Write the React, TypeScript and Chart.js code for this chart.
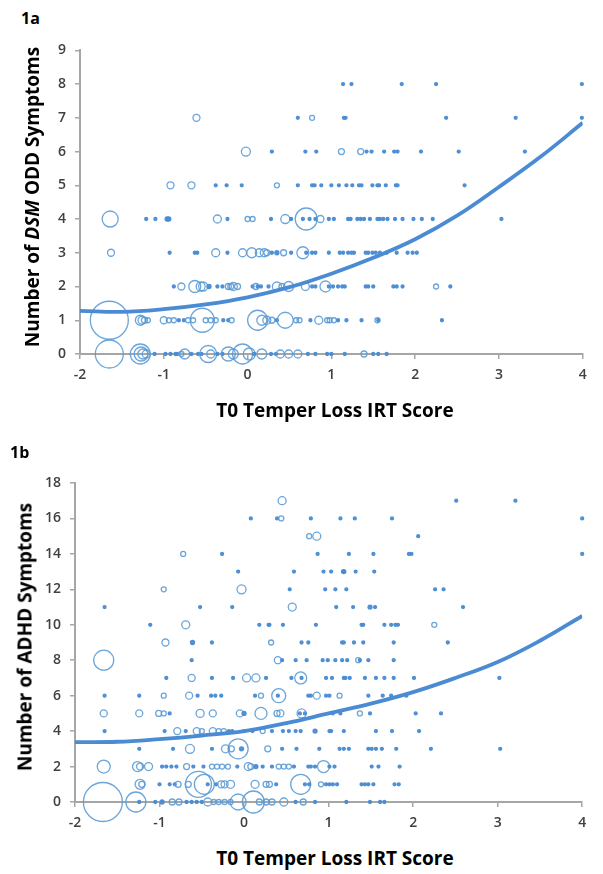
import React, { useEffect, useRef } from 'react';
import { Chart, registerables } from 'chart.js';

Chart.register(...registerables);

// ---------- shared axis values ----------
const X_MIN = -2;
const X_MAX = 4;
const FIT_X = [-2, -1.5, -1, -0.5, 0, 0.5, 1, 1.5, 2, 2.5, 3, 3.5, 4];

// ---------- 1a: ODD symptoms (fitted curve) ----------
const ODD_FIT = [1.28, 1.25, 1.33, 1.47, 1.68, 1.98, 2.38, 2.85, 3.4, 4.1, 4.95, 5.85, 6.85];

// each row = symptom count; entries are [T0 score, bubble radius]
const ODD_0 = [[-1.65,14],[-1.28,10],[-1.27,7],[-1.25,5],[-1.21,4],[-1.11,1.5],[-0.98,1.5],[-0.92,1.5],[-0.86,1.5],[-0.84,1.5],[-0.79,2.5],[-0.75,5],[-0.67,1.5],[-0.59,1.5],[-0.55,1.5],[-0.47,8.5],[-0.44,4],[-0.36,1.5],[-0.3,1.5],[-0.23,7],[-0.17,5],[-0.06,10],[0.02,6],[0.08,1.5],[0.17,5],[0.28,1.5],[0.34,1.5],[0.39,4],[0.49,4],[0.6,4],[0.72,1.5],[0.81,1.5],[0.95,1.5],[1.0,1.5],[1.16,1.5],[1.39,3],[1.5,1.5],[1.56,1.5],[1.66,1.5]];
const ODD_1 = [[-1.65,19],[-1.28,5],[-1.26,4],[-1.23,3],[-1.19,2.5],[-1.0,3.5],[-0.94,2.5],[-0.88,2.5],[-0.82,1.5],[-0.76,1.5],[-0.71,2.5],[-0.65,2.5],[-0.54,12],[-0.5,2.5],[-0.44,2.5],[-0.38,2.5],[-0.29,1.5],[-0.23,1.5],[-0.19,2.5],[0.12,10],[0.17,5],[0.23,4],[0.29,3],[0.35,1.5],[0.45,8],[0.58,2.5],[0.62,2.5],[0.75,1.5],[0.85,4],[0.95,2.5],[0.98,2.5],[1.03,2.5],[1.08,1.5],[1.18,1.5],[1.36,1.5],[1.55,2.5],[1.56,1.5],[2.32,1.5]];
const ODD_2 = [[-0.88,1.5],[-0.79,3.5],[-0.63,6],[-0.56,4.5],[-0.53,4.5],[-0.46,2],[-0.36,1.5],[-0.3,1.5],[-0.23,3],[-0.2,3],[-0.17,4],[-0.12,3],[0.06,1.5],[0.1,3],[0.12,1.5],[0.16,1.5],[0.25,1.5],[0.35,4.5],[0.41,3],[0.49,5],[0.69,4],[0.77,1.5],[0.81,1.5],[0.93,5.5],[0.97,1.5],[1.02,1.5],[1.08,1.5],[1.13,1.5],[1.16,1.5],[1.41,1.5],[1.44,1.5],[1.5,1.5],[1.74,1.5],[1.78,1.5],[1.85,1.5],[2.25,2.5],[2.42,1.5]];
const ODD_3 = [[-1.63,3.5],[-0.93,1.5],[-0.63,1.5],[-0.6,1.5],[-0.38,4],[-0.24,1.5],[-0.06,4],[0.05,5],[0.14,4],[0.2,4],[0.23,3],[0.29,1.5],[0.35,2],[0.43,3],[0.52,1.5],[0.66,6],[0.7,1.5],[0.77,1.5],[0.81,1.5],[0.97,1.5],[1.1,1.5],[1.14,1.5],[1.2,1.5],[1.24,1.5],[1.27,1.5],[1.41,1.5],[1.44,1.5],[1.49,1.5],[1.53,1.5],[1.58,1.5],[1.66,1.5],[1.78,1.5],[1.91,1.5],[1.97,1.5],[2.02,1.5]];
const ODD_4 = [[-1.64,8],[-1.21,1.5],[-1.1,1.5],[-0.96,2],[-0.94,2],[-0.36,4],[-0.24,1.5],[0.0,2.5],[0.06,2.5],[0.28,1.5],[0.45,4.5],[0.52,1.5],[0.66,1.5],[0.7,11],[0.74,1.5],[0.81,1.5],[0.87,3.5],[0.97,1.5],[1.03,1.5],[1.2,1.5],[1.23,1.5],[1.31,1.5],[1.35,1.5],[1.39,1.5],[1.46,1.5],[1.55,1.5],[1.58,1.5],[1.62,1.5],[1.67,1.5],[1.76,1.5],[1.85,1.5],[1.98,1.5],[2.08,1.5],[2.21,1.5],[3.03,1.5]];
const ODD_5 = [[-0.92,3.5],[-0.67,3.5],[-0.38,1.5],[-0.25,1.5],[-0.07,1.5],[0.35,2.5],[0.6,1.5],[0.77,1.5],[0.8,1.5],[0.88,1.5],[1.0,1.5],[1.09,1.5],[1.18,1.5],[1.25,1.5],[1.33,1.5],[1.36,1.5],[1.49,1.5],[1.55,1.5],[1.57,1.5],[1.65,1.5],[1.77,1.5],[1.79,1.5],[2.59,1.5]];
const ODD_6 = [[-0.02,4.5],[0.29,1.5],[0.69,1.5],[0.82,1.5],[1.12,3],[1.35,3],[1.42,1.5],[1.48,1.5],[1.63,1.5],[1.75,1.5],[1.79,1.5],[2.07,1.5],[2.52,1.5],[3.31,1.5]];
const ODD_7 = [[-0.61,3.5],[0.6,1.5],[0.77,2.5],[1.15,1.5],[1.17,1.5],[2.37,1.5],[3.2,1.5],[3.99,1.5]];
const ODD_8 = [[1.14,1.5],[1.24,1.5],[1.84,1.5],[2.25,1.5],[3.99,1.5]];
const ODD_ROWS = [ODD_0, ODD_1, ODD_2, ODD_3, ODD_4, ODD_5, ODD_6, ODD_7, ODD_8];

// ---------- 1b: ADHD symptoms ----------
const ADHD_FIT = [3.38, 3.4, 3.55, 3.75, 4.0, 4.45, 5.0, 5.55, 6.2, 7.0, 7.9, 9.1, 10.5];

const AD_0 = [[-1.67,19.5],[-1.28,10],[-1.24,1.5],[-1.05,1.5],[-0.97,2],[-0.85,3],[-0.77,3],[-0.68,1.5],[-0.62,1.5],[-0.56,1.5],[-0.5,1.5],[-0.43,4],[-0.36,2.5],[-0.3,2.5],[-0.23,2.5],[-0.16,2.5],[-0.07,8],[0.11,11],[0.18,3],[0.26,3],[0.33,3],[0.47,4],[0.61,1.5],[0.7,3],[0.84,1.5],[1.21,1.5],[1.49,1.5],[1.61,1.5],[1.66,1.5]];
const AD_1 = [[-1.23,5],[-1.21,3],[-1.0,1.5],[-0.88,1.5],[-0.82,1.5],[-0.78,3],[-0.66,3],[-0.54,13],[-0.47,10],[-0.43,1.5],[-0.33,1.5],[-0.27,3.5],[-0.23,3.5],[-0.16,4],[0.13,4],[0.26,3],[0.3,3],[0.38,1.5],[0.67,10],[0.72,1.5],[0.77,1.5],[0.91,2.5],[0.97,1.5],[1.01,1.5],[1.05,1.5],[1.1,1.5],[1.39,1.5],[1.43,1.5],[1.47,1.5],[1.53,1.5],[1.78,1.5],[1.83,1.5]];
const AD_2 = [[-1.66,6.5],[-1.26,5],[-1.23,3.5],[-1.13,4],[-0.97,1.5],[-0.92,1.5],[-0.86,1.5],[-0.8,1.5],[-0.68,3],[-0.6,1.5],[-0.48,1.5],[-0.38,2.5],[-0.32,2.5],[-0.26,2.5],[-0.19,2.5],[-0.08,1.5],[0.05,4],[0.08,3],[0.14,2],[0.22,1.5],[0.33,1.5],[0.41,2.5],[0.47,2.5],[0.53,2.5],[0.59,1.5],[0.76,1.5],[0.79,1.5],[0.84,1.5],[0.94,6],[1.01,1.5],[1.07,1.5],[1.51,1.5],[1.59,1.5],[1.84,1.5]];
const AD_3 = [[-1.24,1.5],[-0.84,1.5],[-0.64,4.5],[-0.38,1.5],[-0.22,4],[-0.15,3],[-0.07,10],[-0.03,2],[0.28,3],[0.45,1.5],[0.62,1.5],[0.89,1.5],[1.13,1.5],[1.18,1.5],[1.24,1.5],[1.47,1.5],[1.51,1.5],[1.56,1.5],[1.63,1.5],[1.8,1.5],[2.21,1.5],[3.03,1.5]];
const AD_4 = [[-1.65,1.5],[-0.94,1.5],[-0.79,3.5],[-0.69,1.5],[-0.56,3.5],[-0.5,2.5],[-0.37,3.5],[-0.3,2.5],[-0.24,2.5],[-0.18,1.5],[-0.14,1.5],[0.0,1.5],[0.1,1.5],[0.22,2.5],[0.33,1.5],[0.46,1.5],[0.53,1.5],[0.61,1.5],[0.67,1.5],[0.84,2],[1.01,1.5],[1.03,1.5],[1.18,1.5],[1.56,1.5],[1.75,1.5],[2.07,1.5]];
const AD_5 = [[-1.66,3.5],[-1.24,3.5],[-1.01,3],[-0.95,2.5],[-0.88,1.5],[-0.52,4],[-0.37,3.5],[-0.05,3.5],[0.0,2],[0.2,6],[0.39,3],[0.43,3.5],[0.66,1.5],[0.68,4.5],[0.72,1.5],[1.05,1.5],[1.14,1.5],[1.37,2.5],[1.49,1.5],[2.03,1.5],[2.33,1.5]];
const AD_6 = [[-1.65,1.5],[-1.24,1.5],[-0.95,2.5],[-0.65,3.5],[-0.55,1.5],[-0.39,1.5],[-0.34,1.5],[-0.27,1.5],[0.13,1.5],[0.2,2.5],[0.41,7],[0.4,1.5],[0.76,1.5],[0.79,1.5],[0.86,3.5],[0.97,1.5],[1.01,1.5],[1.13,2.5],[1.47,1.5],[1.64,1.5],[1.74,1.5],[1.92,1.5]];
const AD_7 = [[-0.92,1.5],[-0.62,3.5],[-0.38,1.5],[-0.13,1.5],[0.03,4],[0.14,4],[0.26,1.5],[0.56,1.5],[0.67,6],[0.68,1.5],[0.97,1.5],[1.04,1.5],[1.18,1.5],[1.2,1.5],[1.25,1.5],[1.43,1.5],[1.56,1.5],[1.66,1.5],[1.77,1.5],[2.01,1.5],[3.02,1.5]];
const AD_8 = [[-1.66,10],[-0.62,1.5],[0.4,3.5],[0.45,1.5],[0.61,1.5],[0.74,1.5],[0.93,1.5],[0.99,1.5],[1.08,1.5],[1.16,1.5],[1.22,1.5],[1.35,2.5],[1.37,1.5],[1.47,1.5],[1.77,1.5]];
const AD_9 = [[-0.93,3.5],[-0.61,2],[-0.38,1.5],[0.32,2.5],[0.68,1.5],[0.76,1.5],[1.16,1.5],[1.18,1.5],[1.3,1.5],[1.41,1.5],[1.77,1.5],[2.41,1.5]];
const AD_10 = [[-1.11,1.5],[-0.69,4],[0.18,1.5],[0.29,1.5],[0.3,1.5],[0.46,1.5],[0.85,1.5],[1.39,1.5],[1.41,1.5],[1.66,1.5],[1.74,1.5],[1.79,1.5],[1.82,1.5],[2.25,2.5]];
const AD_11 = [[-1.65,1.5],[-0.52,1.5],[-0.14,1.5],[0.57,4],[1.09,1.5],[1.29,1.5],[1.49,2],[1.55,1.5],[2.59,1.5]];
const AD_12 = [[-0.95,2.5],[-0.03,4.5],[0.54,1.5],[0.96,1.5],[1.08,1.5],[1.21,1.5],[2.26,1.5],[2.36,1.5]];
const AD_13 = [[-0.07,1.5],[0.59,1.5],[0.94,1.5],[1.03,1.5],[1.17,1.5],[1.18,2],[1.32,1.5],[1.54,1.5]];
const AD_14 = [[-0.72,2.5],[-0.26,1.5],[0.87,1.5],[1.24,1.5],[1.53,1.5],[1.95,1.5],[1.98,1.5],[4.0,1.5]];
const AD_15 = [[0.77,2.5],[0.86,4],[2.06,1.5]];
const AD_16 = [[0.08,1.5],[0.39,1.5],[0.44,2.5],[0.79,1.5],[1.14,1.5],[1.31,1.5],[1.75,1.5],[4.0,1.5]];
const AD_17 = [[0.45,4],[2.51,1.5],[3.21,1.5]];
const AD_ROWS = [AD_0, AD_1, AD_2, AD_3, AD_4, AD_5, AD_6, AD_7, AD_8, AD_9, AD_10, AD_11, AD_12, AD_13, AD_14, AD_15, AD_16, AD_17];

// ---------- styles ----------
const FONT = '"Open Sans", "DejaVu Sans", sans-serif';
const DOT_COLOR = 'rgba(91,155,213,0.9)';
const DOT_FILL = 'rgba(74,140,210,0.95)';
const LINE_COLOR = '#4a8bd4';
const AXIS_COLOR = '#a6a6a6';
const TICK_COLOR = '#404040';

function toBubbles(rows: number[][][]) {
  const pts: { x: number; y: number; r: number }[] = [];
  rows.forEach((row, y) => row.forEach(([x, r]) => pts.push({ x, y, r })));
  return pts;
}

interface PanelProps {
  rows: number[][][];
  fit: number[];
  yMax: number;
  yStep: number;
  top: number;
  height: number;
  leftW: number;
  padTop: number;
  padRight: number;
  xAxisH: number;
}

function Panel(p: PanelProps) {
  const ref = useRef<HTMLCanvasElement>(null);
  useEffect(() => {
    if (!ref.current) return;
    const tickFont = { family: FONT, size: 14, weight: 600 as any };
    const chart = new Chart(ref.current, {
      type: 'bubble',
      data: {
        datasets: [
          {
            type: 'line' as any,
            data: FIT_X.map((x, i) => ({ x, y: p.fit[i] })),
            borderColor: LINE_COLOR,
            borderWidth: 3.8,
            pointRadius: 0,
            tension: 0.4,
            fill: false,
            order: 0,
          } as any,
          {
            data: toBubbles(p.rows),
            borderColor: (c: any) => (c.raw && c.raw.r <= 2 ? DOT_FILL : DOT_COLOR),
            backgroundColor: (c: any) => (c.raw && c.raw.r <= 2 ? DOT_FILL : 'rgba(0,0,0,0)'),
            borderWidth: 1.3,
            clip: false,
            order: 1,
          } as any,
        ],
      },
      options: {
        responsive: false,
        animation: false,
        events: [],
        layout: { padding: { left: 0, right: p.padRight, top: p.padTop, bottom: 0 } },
        plugins: { legend: { display: false }, tooltip: { enabled: false } },
        scales: {
          x: {
            type: 'linear',
            min: X_MIN,
            max: X_MAX,
            afterFit: (s: any) => { s.height = p.xAxisH; },
            ticks: { stepSize: 1, padding: 8, color: TICK_COLOR, font: tickFont },
            grid: { drawOnChartArea: false, drawTicks: true, tickLength: 5, color: AXIS_COLOR, lineWidth: 1.5 },
            border: { display: true, color: AXIS_COLOR, width: 2 },
          },
          y: {
            type: 'linear',
            min: 0,
            max: p.yMax,
            afterFit: (s: any) => { s.width = p.leftW; },
            ticks: { stepSize: p.yStep, padding: 9, color: TICK_COLOR, font: tickFont },
            grid: { drawOnChartArea: false, drawTicks: true, tickLength: 5, color: AXIS_COLOR, lineWidth: 1.5 },
            border: { display: true, color: AXIS_COLOR, width: 2 },
          },
        },
      } as any,
    });
    return () => chart.destroy();
  }, []);
  return (
    <canvas
      ref={ref}
      width={603}
      height={p.height}
      style={{ position: 'absolute', left: 0, top: p.top, width: 603, height: p.height }}
    />
  );
}

const label: React.CSSProperties = {
  position: 'absolute',
  fontFamily: FONT,
  fontWeight: 700,
  color: '#000',
  lineHeight: 1,
  whiteSpace: 'nowrap',
};

export default function App() {
  return (
    <div style={{ position: 'absolute', left: 0, top: 0, width: 603, height: 874, background: '#fff', overflow: 'hidden' }}>
      <div style={{ ...label, left: 21, top: 10, fontSize: 16 }}>1a</div>
      <Panel rows={ODD_ROWS} fit={ODD_FIT} yMax={9} yStep={1} top={30} height={400} leftW={80} padTop={18} padRight={4} xAxisH={76} />
      <div style={{ ...label, left: 32, top: 197, fontSize: 19, transform: 'translate(-50%,-50%) rotate(-90deg)' }}>
        Number of <i>DSM</i> ODD Symptoms
      </div>
      <div style={{ ...label, left: 335, top: 401, fontSize: 19, transform: 'translateX(-50%)' }}>T0 Temper Loss IRT Score</div>

      <div style={{ ...label, left: 10, top: 444, fontSize: 16 }}>1b</div>
      <Panel rows={AD_ROWS} fit={ADHD_FIT} yMax={18} yStep={2} top={460} height={380} leftW={75} padTop={23} padRight={6} xAxisH={38} />
      <div style={{ ...label, left: 25, top: 637, fontSize: 19, transform: 'translate(-50%,-50%) rotate(-90deg)' }}>
        Number of ADHD Symptoms
      </div>
      <div style={{ ...label, left: 335, top: 849, fontSize: 19, transform: 'translateX(-50%)' }}>T0 Temper Loss IRT Score</div>
    </div>
  );
}
